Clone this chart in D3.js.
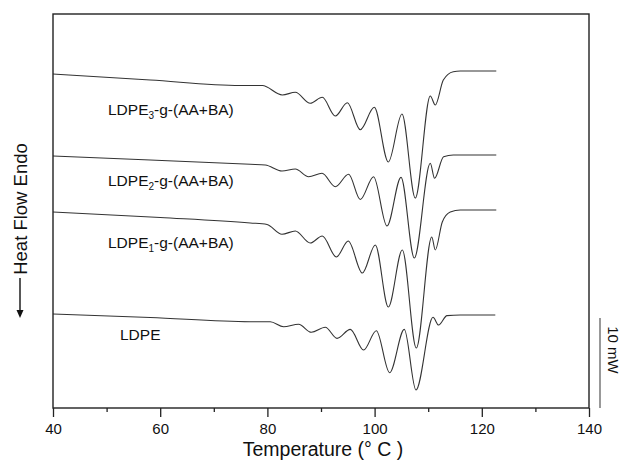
<!DOCTYPE html>
<html>
<head>
<meta charset="utf-8">
<script src="https://cdn.jsdelivr.net/npm/d3@7"></script>
<style>
body { margin: 0; background: #fff; }
svg { display: block; font-family: "Liberation Sans", Arial, sans-serif; }
</style>
</head>
<body>
<div id="chart"></div>
<script>
// DSC traces: temperature in deg C, heat flow in mW (curves stacked)
const ldpe3Temp = [40, 58.15, 74.94, 79.05, 82.78, 85.21, 88.00, 90.24, 92.67, 94.91, 97.33, 99.94, 102.56, 105.11, 107.59, 110.39, 111.32, 112.82, 114.68, 115.99, 122.70];
const ldpe3Flow = [37.11, 36.44, 35.83, 35.83, 34.78, 35.08, 33.86, 34.52, 32.44, 33.92, 30.92, 33.41, 27.33, 32.67, 23.33, 34.67, 33.67, 36.44, 37.37, 37.44, 37.44];

const ldpe2Temp = [40, 58.15, 76.81, 79.61, 82.72, 85.21, 87.69, 90.19, 92.67, 95.15, 97.33, 99.81, 102.31, 104.93, 107.41, 110.39, 111.19, 112.87, 114.68, 115.99, 122.70];
const ldpe2Flow = [28.00, 27.56, 27.08, 27.00, 26.33, 26.56, 25.70, 26.08, 24.59, 25.97, 23.17, 25.70, 20.22, 25.63, 16.67, 27.19, 25.52, 27.92, 28.11, 28.11, 28.11];

const ldpe1Temp = [40, 60.02, 76.81, 79.93, 82.72, 85.21, 88.00, 90.24, 92.86, 95.09, 97.71, 100.13, 102.56, 105.17, 107.78, 110.67, 111.32, 112.63, 114.12, 115.99, 122.70];
const ldpe1Flow = [21.78, 21.17, 20.56, 20.39, 19.30, 19.67, 18.33, 19.11, 16.78, 18.56, 15.00, 18.11, 11.22, 17.56, 6.67, 19.00, 17.56, 20.67, 21.78, 22.00, 22.00];

const ldpeTemp = [40, 58.15, 76.81, 80.54, 83.02, 85.82, 88.19, 90.80, 92.99, 95.47, 97.95, 100.32, 102.80, 105.54, 107.72, 110.90, 111.94, 113.51, 115.99, 122.52];
const ldpeFlow = [10.44, 10.06, 9.59, 9.59, 9.03, 9.30, 8.41, 8.97, 7.74, 8.74, 6.44, 8.59, 3.92, 8.74, 2.00, 10.08, 9.22, 10.26, 10.33, 10.33];

// label text split as [main, subscript, rest]
const seriesNames = [
    ["LDPE", "3", "-g-(AA+BA)"],
    ["LDPE", "2", "-g-(AA+BA)"],
    ["LDPE", "1", "-g-(AA+BA)"],
    ["LDPE", "", ""]
];
const majorTicks = [40, 60, 80, 100, 120, 140];
const minorTicks = [50, 70, 90, 110, 130];
const scaleBarMw = 10;

const margin = { top: 14, right: 35, bottom: 59, left: 53 };
const width = 624 - margin.left - margin.right;
const height = 467 - margin.top - margin.bottom;

const svg = d3.select("#chart").append("svg")
    .attr("width", 624)
    .attr("height", 467);

const g = svg.append("g")
    .attr("transform", "translate(" + margin.left + "," + margin.top + ")");

const x = d3.scaleLinear().domain([40, 140]).range([0, width]);
const y = d3.scaleLinear().domain([0, height / 9]).range([height, 0]);

const series = [
    { name: seriesNames[0], temp: ldpe3Temp, flow: ldpe3Flow },
    { name: seriesNames[1], temp: ldpe2Temp, flow: ldpe2Flow },
    { name: seriesNames[2], temp: ldpe1Temp, flow: ldpe1Flow },
    { name: seriesNames[3], temp: ldpeTemp, flow: ldpeFlow }
];
// label anchor in page pixels
const labelPos = [[108, 115], [108, 186], [108, 248], [120, 340]];

const line = d3.line()
    .x(d => x(d[0]))
    .y(d => y(d[1]))
    .curve(d3.curveMonotoneX);

series.forEach(s => {
    g.append("path")
        .datum(d3.zip(s.temp, s.flow))
        .attr("fill", "none")
        .attr("stroke", "#333")
        .attr("stroke-width", 1.1)
        .attr("d", line);
});

// frame
g.append("rect")
    .attr("x", 0)
    .attr("y", 0)
    .attr("width", width)
    .attr("height", height)
    .attr("fill", "none")
    .attr("stroke", "#222")
    .attr("stroke-width", 1.4);

// x axis, major + minor ticks
const xAxis = g.append("g")
    .attr("transform", "translate(0," + height + ")")
    .call(d3.axisBottom(x).tickValues(majorTicks).tickSizeInner(9).tickSizeOuter(0).tickPadding(6));
xAxis.select(".domain").remove();
xAxis.selectAll("line").attr("stroke", "#222").attr("stroke-width", 1.3);
xAxis.selectAll("text")
    .attr("fill", "#111")
    .style("font-family", "Liberation Sans, Arial, sans-serif")
    .style("font-size", "15px");

const xMinor = g.append("g")
    .attr("transform", "translate(0," + height + ")")
    .call(d3.axisBottom(x).tickValues(minorTicks).tickSize(4).tickFormat(""));
xMinor.select(".domain").remove();
xMinor.selectAll("line").attr("stroke", "#222").attr("stroke-width", 1.3);

g.append("text")
    .attr("x", width / 2 + 2)
    .attr("y", height + 48)
    .attr("text-anchor", "middle")
    .attr("font-size", "19.5px")
    .attr("fill", "#111")
    .text("Temperature (\u00b0 C )");

// curve labels
series.forEach((s, i) => {
    const t = svg.append("text")
        .attr("x", labelPos[i][0])
        .attr("y", labelPos[i][1])
        .attr("font-size", "15.5px")
        .attr("fill", "#111");
    t.append("tspan").text(s.name[0]);
    if (s.name[1]) {
        t.append("tspan").attr("dy", 4).attr("font-size", "10px").text(s.name[1]);
        t.append("tspan").attr("dy", -4).text(s.name[2]);
    }
});

// y label with arrow
svg.append("text")
    .attr("transform", "translate(27,209)rotate(-90)")
    .attr("text-anchor", "middle")
    .attr("font-size", "18.5px")
    .attr("fill", "#111")
    .text("Heat Flow Endo");

svg.append("line")
    .attr("x1", 20).attr("x2", 20)
    .attr("y1", 278).attr("y2", 311)
    .attr("stroke", "#111")
    .attr("stroke-width", 1.4);
svg.append("path")
    .attr("d", "M16.5,310L23.5,310L20,318Z")
    .attr("fill", "#111");

// 10 mW scale bar
const barX = width + 11;
g.append("line")
    .attr("x1", barX).attr("x2", barX)
    .attr("y1", y(0)).attr("y2", y(scaleBarMw))
    .attr("stroke", "#444")
    .attr("stroke-width", 1.1);

g.append("text")
    .attr("transform", "translate(" + (width + 19) + "," + ((y(0) + y(scaleBarMw)) / 2 - 13) + ")rotate(90)")
    .attr("text-anchor", "middle")
    .attr("font-size", "15px")
    .attr("fill", "#111")
    .text(scaleBarMw + " mW");
</script>
</body>
</html>
